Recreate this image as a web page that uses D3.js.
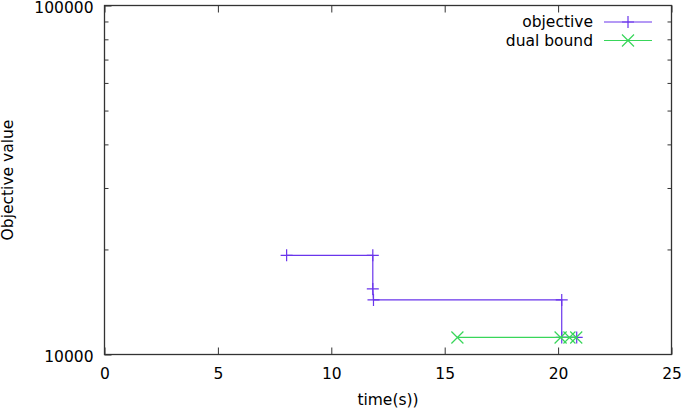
<!DOCTYPE html>
<html>
<head>
<meta charset="utf-8">
<script src="https://cdn.jsdelivr.net/npm/d3@7"></script>
<style>
  body { margin: 0; background: #fff; }
  svg text { font-family: "DejaVu Sans", sans-serif; font-size: 15.5px; fill: #000; }
</style>
</head>
<body>
<div id="chart"></div>
<script>
// objective (primal) values over time, as plotted step by step
var objTime = [8.03, 11.83, 11.83, 11.86, 20.16, 20.16, 20.82];
var objValue = [19240, 19240, 15410, 14330, 14330, 11190, 11190];

// dual bound values over time
var dualTime = [15.56, 20.11, 20.5, 20.8];
var dualValue = [11190, 11190, 11190, 11190];

var xTicks = [0, 5, 10, 15, 20, 25];
var yTicks = [10000, 100000];
var yMinorTicks = [20000, 30000, 40000, 50000, 60000, 70000, 80000, 90000];

var seriesNames = ["objective", "dual bound"];
var colors = ["#6a35ec", "#38d65a"];

// plot area
var width = 685, height = 409;
var margin = { top: 5.5, right: 13.5, bottom: 54.5, left: 104.5 };

var svg = d3.select("#chart").append("svg")
    .attr("width", width)
    .attr("height", height);

var x = d3.scaleLinear().domain([0, 25]).range([margin.left, width - margin.right]);
var y = d3.scaleLog().domain([10000, 100000]).range([height - margin.bottom, margin.top]);

function styleAxis(g) {
    g.select(".domain").remove();
    g.selectAll(".tick line").attr("stroke", "#333").attr("stroke-width", 1);
}

// bottom axis with inward ticks
svg.append("g")
    .attr("transform", "translate(0," + y.range()[0] + ")")
    .call(d3.axisBottom(x).tickValues(xTicks).tickSize(-7).tickPadding(13).tickFormat(d3.format("d")))
    .call(styleAxis)
    .selectAll("text").attr("font-size", null).attr("font-family", null);

// top mirror ticks
svg.append("g")
    .attr("transform", "translate(0," + y.range()[1] + ")")
    .call(d3.axisTop(x).tickValues(xTicks).tickSize(-7).tickFormat(""))
    .call(styleAxis);

// left axis, major + minor
svg.append("g")
    .attr("transform", "translate(" + x.range()[0] + ",0)")
    .call(d3.axisLeft(y).tickValues(yTicks).tickSize(-7).tickPadding(11).tickFormat(d3.format("d")))
    .call(styleAxis)
    .selectAll("text").attr("font-size", null).attr("font-family", null).attr("dy", "0.47em");

svg.append("g")
    .attr("transform", "translate(" + x.range()[0] + ",0)")
    .call(d3.axisLeft(y).tickValues(yMinorTicks).tickSize(-4).tickFormat(""))
    .call(styleAxis);

// right mirror
svg.append("g")
    .attr("transform", "translate(" + x.range()[1] + ",0)")
    .call(d3.axisRight(y).tickValues(yMinorTicks).tickSize(-4).tickFormat(""))
    .call(styleAxis);

// border
svg.append("rect")
    .attr("x", x.range()[0])
    .attr("y", y.range()[1])
    .attr("width", x.range()[1] - x.range()[0])
    .attr("height", y.range()[0] - y.range()[1])
    .attr("fill", "none")
    .attr("stroke", "#333")
    .attr("stroke-width", 1.3);

// axis titles
svg.append("text")
    .attr("x", (x.range()[0] + x.range()[1]) / 2)
    .attr("y", 405)
    .attr("text-anchor", "middle")
    .text("time(s))");

svg.append("text")
    .attr("transform", "translate(13," + (y.range()[0] + y.range()[1]) / 2 + ") rotate(-90)")
    .attr("text-anchor", "middle")
    .text("Objective value");

// markers
function plusPath(cx, cy) {
    var r = 6;
    return "M" + (cx - r) + "," + cy + "H" + (cx + r) + "M" + cx + "," + (cy - r) + "V" + (cy + r);
}
function crossPath(cx, cy) {
    var r = 6;
    return "M" + (cx - r) + "," + (cy - r) + "L" + (cx + r) + "," + (cy + r) +
        "M" + (cx - r) + "," + (cy + r) + "L" + (cx + r) + "," + (cy - r);
}

var line = d3.line().x(function (d) { return x(d[0]); }).y(function (d) { return y(d[1]); });

var series = [
    { pts: d3.zip(objTime, objValue), color: colors[0], marker: plusPath },
    { pts: d3.zip(dualTime, dualValue), color: colors[1], marker: crossPath }
];

series.forEach(function (s) {
    svg.append("path")
        .attr("d", line(s.pts))
        .attr("fill", "none")
        .attr("stroke", s.color)
        .attr("stroke-width", 1.2);
    svg.append("g").selectAll("path")
        .data(s.pts)
        .enter().append("path")
        .attr("d", function (d) { return s.marker(x(d[0]), y(d[1])); })
        .attr("stroke", s.color)
        .attr("stroke-width", 1.2)
        .attr("fill", "none");
});

// legend
var legend = svg.append("g");
seriesNames.forEach(function (name, i) {
    var ly = 22 + i * 18.5;
    legend.append("text")
        .attr("x", 593)
        .attr("y", ly)
        .attr("dy", "0.35em")
        .attr("text-anchor", "end")
        .text(name);
    legend.append("line")
        .attr("x1", 604).attr("x2", 652)
        .attr("y1", ly).attr("y2", ly)
        .attr("stroke", series[i].color)
        .attr("stroke-width", 1.2);
    legend.append("path")
        .attr("d", series[i].marker(628, ly))
        .attr("stroke", series[i].color)
        .attr("stroke-width", 1.2)
        .attr("fill", "none");
});
</script>
</body>
</html>
